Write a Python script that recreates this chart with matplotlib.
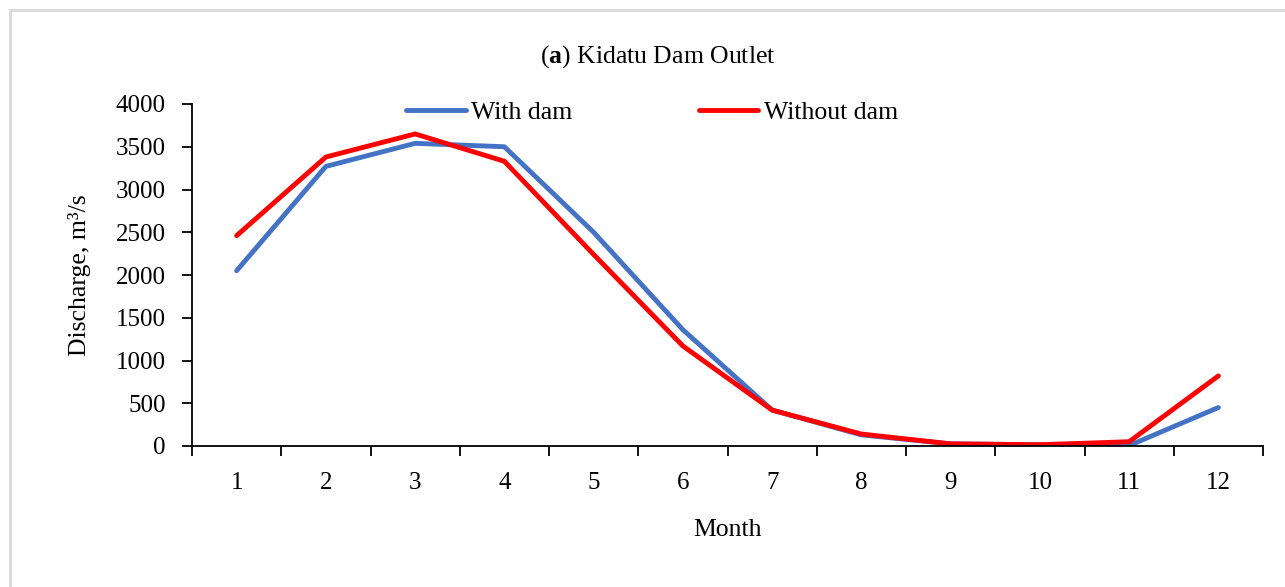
import matplotlib
matplotlib.use("Agg")
import matplotlib.pyplot as plt
from matplotlib.patches import Rectangle

months = [1, 2, 3, 4, 5, 6, 7, 8, 9, 10, 11, 12]
month_labels = [str(m) for m in months]
with_dam = [2050, 3270, 3540, 3500, 2500, 1360, 420, 130, 25, 15, 5, 450]
without_dam = [2460, 3380, 3650, 3330, 2240, 1170, 420, 140, 25, 15, 50, 820]
yticks = [0, 500, 1000, 1500, 2000, 2500, 3000, 3500, 4000]

plt.rcParams['font.family'] = ['Liberation Serif', 'DejaVu Serif']
plt.rcParams['mathtext.fontset'] = 'custom'
plt.rcParams['mathtext.rm'] = 'Liberation Serif'
plt.rcParams['mathtext.bf'] = 'Liberation Serif:bold'

FS = 18.5
W, H = 1285, 587
fig = plt.figure(figsize=(W / 100, H / 100), dpi=100)
fig.patch.set_facecolor('white')

# light gray frame around chart
fig.patches.append(Rectangle((10 / W, -0.05), 1.2, 1 - 10 / H + 0.05,
                             transform=fig.transFigure, fill=False,
                             edgecolor='#d9d9d9', linewidth=2))

ax = fig.add_axes([192 / W, 1 - 446 / H, (1263 - 192) / W, (446 - 104) / H])
ax.plot(months, with_dam, color='#4472C4', lw=3.5, label='With dam', solid_capstyle='round')
ax.plot(months, without_dam, color='#FF0000', lw=3.5, label='Without dam', solid_capstyle='round')

ax.set_xlim(0.5, 12.5)
ax.set_ylim(0, 4000)
ax.set_yticks(yticks)
ax.set_yticklabels([str(v) for v in yticks], fontsize=18)
ax.set_xticks([m - 0.5 for m in months] + [12.5])
ax.set_xticklabels([])
ax.set_xticks(months, minor=True)
ax.set_xticklabels(month_labels, minor=True, fontsize=18)
ax.tick_params(axis='x', which='major', length=7, width=1.3, direction='out')
ax.tick_params(axis='x', which='minor', length=0, pad=19)
ax.tick_params(axis='y', length=7, width=1.3, direction='out', pad=12)
for s in ['top', 'right']:
    ax.spines[s].set_visible(False)
for s in ['left', 'bottom']:
    ax.spines[s].set_linewidth(1.3)

ax.set_ylabel('Discharge, m³/s', fontsize=FS, labelpad=18)
ax.set_xlabel('Month', fontsize=FS, labelpad=18)

fig.text(658 / W, 1 - 57 / H, r'($\mathbf{a}$) Kidatu Dam Outlet', ha='center', va='center', fontsize=FS)

fig.legend(loc='center', bbox_to_anchor=(652 / W, 1 - 113 / H), ncol=2, frameon=False,
           fontsize=FS, handlelength=2.33, handletextpad=0.2, columnspacing=4.9)

fig.savefig('out.png', dpi=100)
